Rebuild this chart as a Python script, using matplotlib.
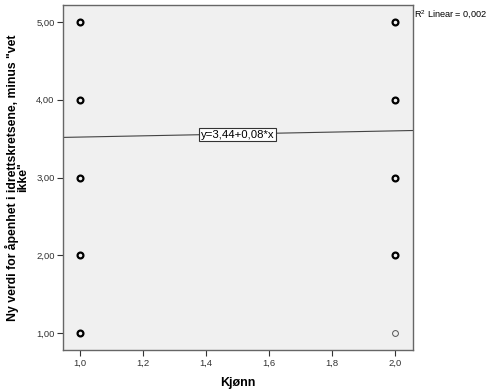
import numpy as np
import matplotlib
matplotlib.use('Agg')
import matplotlib.pyplot as plt

# data
kjonn = [1, 1, 1, 1, 1, 2, 2, 2, 2, 2]
verdi = [5, 4, 3, 2, 1, 5, 4, 3, 2, 1]
bold = [True, True, True, True, True, True, True, True, True, False]
intercept = 3.44
slope = 0.08
r2_text = 'R$^2$ Linear = 0,002'
fit_text = 'y=3,44+0,08*x'

plt.rcParams['font.family'] = 'Liberation Sans'
plt.rcParams['mathtext.fontset'] = 'custom'
plt.rcParams['mathtext.rm'] = 'Liberation Sans'

fig = plt.figure(figsize=(4.88, 3.91), dpi=100)
ax = fig.add_axes([63/488, 1-350/391, 350/488, 345/391])
ax.set_facecolor('#f0f0f0')

xmin, xmax = 0.946, 2.057
ax.set_xlim(xmin, xmax)
ax.set_ylim(0.781, 5.219)

for x, y, b in zip(kjonn, verdi, bold):
    ax.plot(x, y, 'o', ms=4.2, mfc='none',
            mec='black' if b else '#555555', mew=1.6 if b else 0.7)

xs = np.array([xmin, xmax])
ax.plot(xs, intercept + slope*xs, color='#444444', lw=0.8)

ax.text(1.5, intercept + slope*1.5 - 0.01, fit_text, ha='center', va='center', fontsize=8.2,
        bbox=dict(boxstyle='square,pad=0.12', fc='white', ec='#333333', lw=0.8))

fig.text(414/488, 1-15/391, r2_text, fontsize=6.6, ha='left', va='center')

ax.set_xticks([1.0, 1.2, 1.4, 1.6, 1.8, 2.0])
ax.set_xticklabels(['1,0', '1,2', '1,4', '1,6', '1,8', '2,0'])
ax.set_yticks([1, 2, 3, 4, 5])
ax.set_yticklabels(['1,00', '2,00', '3,00', '4,00', '5,00'])
ax.tick_params(labelsize=6.8, colors='#333333', length=4, width=0.8, pad=2)
for s in ax.spines.values():
    s.set_color('#666666')
    s.set_linewidth(1.0)

ax.set_xlabel('Kjønn', fontsize=9, fontweight='bold', labelpad=7)
ax.set_ylabel('Ny verdi for åpenhet i idrettskretsene, minus "vet\nikke"',
              fontsize=8.8, fontweight='bold', labelpad=5, linespacing=0.85)

fig.savefig('out.png', dpi=100)
